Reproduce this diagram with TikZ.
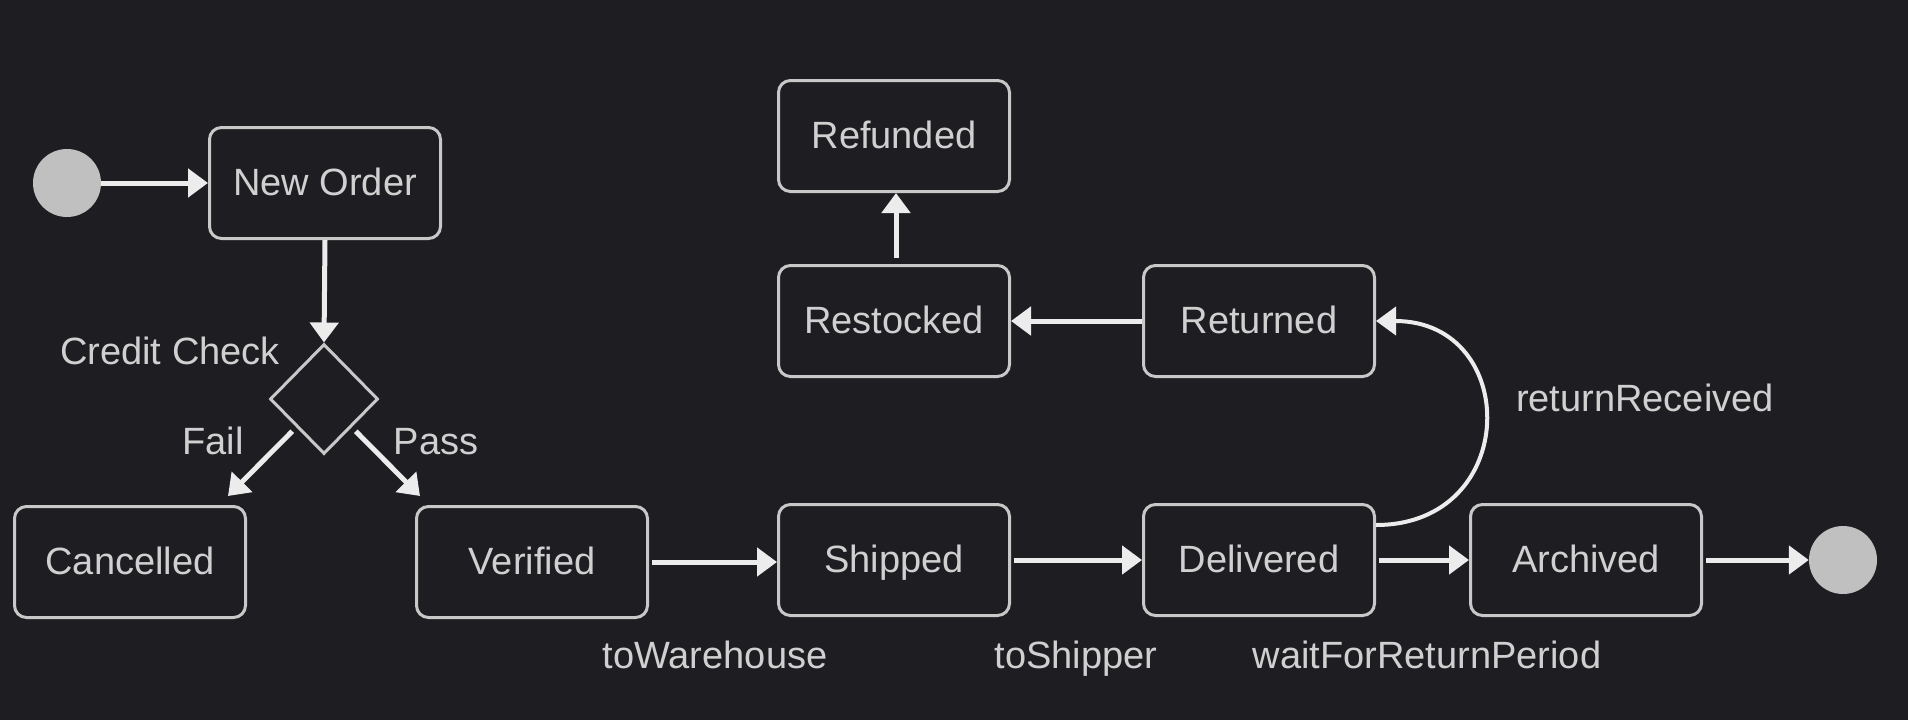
\documentclass[tikz,border=0pt]{standalone}
\usepackage{fontspec}
\setmainfont{Liberation Sans}
\usetikzlibrary{shapes.geometric,arrows.meta,calc}
\definecolor{bg}{RGB}{30,29,33}
\definecolor{boxline}{RGB}{200,200,200}
\definecolor{txt}{RGB}{208,208,208}
\definecolor{arr}{RGB}{236,236,236}
\definecolor{dot}{RGB}{192,192,192}
\tikzset{
  statebox/.style={draw=boxline, line width=3pt, fill=bg, rounded corners=12pt,
    minimum width=231pt, minimum height=111pt, inner sep=0pt, text=txt,
    text height=27pt, text depth=3pt,
    font=\fontsize{38}{46}\selectfont},
  dotnode/.style={circle, fill=dot, minimum size=68pt, inner sep=0pt},
  choice/.style={diamond, draw=boxline, line width=3pt, fill=bg,
    minimum width=108pt, minimum height=110pt, inner sep=0pt},
  lbl/.style={text=txt, font=\fontsize{38}{46}\selectfont, inner sep=0pt,
    text height=27pt, text depth=3pt},
  flow/.style={draw=arr, line width=5pt, -{Triangle[length=20pt,width=28pt]}},
}
\begin{document}
\begin{tikzpicture}[x=1pt,y=-1pt]
\useasboundingbox (0,0) rectangle (1908,720);
\fill[bg] (0,0) rectangle (1908,720);

\node[dotnode] (start) at (67,183) {};
\node[statebox] (new) at (325,183) {New Order};
\node[choice] (dia) at (324,399) {};
\node[lbl] (cclbl) at (170,352) {Credit Check};
\node[statebox] (cancel) at (130,562) {Cancelled};
\node[statebox] (verif) at (532,562) {Verified};
\node[statebox] (ship) at (894,560) {Shipped};
\node[statebox] (deliv) at (1259,560) {Delivered};
\node[statebox] (arch) at (1586,560) {Archived};
\node[dotnode] (stop) at (1843,560) {};
\node[statebox] (refund) at (894,136) {Refunded};
\node[statebox] (restock) at (894,321) {Restocked};
\node[statebox] (ret) at (1259,321) {Returned};

\node[lbl] (faillbl) at (213,442) {Fail};
\node[lbl] (passlbl) at (436,442) {Pass};
\node[lbl] (l1) at (715,656) {toWarehouse};
\node[lbl] (l2) at (1076,656) {toShipper};
\node[lbl] (l3) at (1427,656) {waitForReturnPeriod};
\node[lbl] (l4) at (1645,399) {returnReceived};

\coordinate (failend) at (228,496);
\coordinate (passend) at (420,496);
\coordinate (rsTop) at ($(restock.north)+(2,-6)$);
\coordinate (rfBot) at ($(refund.south)+(2,0)$);
\coordinate (curveStart) at ($(deliv.east)+(0,-35)$);
\coordinate (shipIn) at ($(ship.west)+(0,2)$);

\draw[flow] (start.east) -- (new.west);
\draw[flow] (new.south) -- (dia.north);
\draw[flow] ($(dia.south west)+(-4,4)$) -- (failend);
\draw[flow] ($(dia.south east)+(4,4)$) -- (passend);
\draw[flow, shorten <=3pt] (verif.east) -- (shipIn);
\draw[flow, shorten <=3pt] (ship.east) -- (deliv.west);
\draw[flow, shorten <=3pt] (deliv.east) -- (arch.west);
\draw[flow, shorten <=3pt] (arch.east) -- (stop.west);
\draw[flow] (ret.west) -- (restock.east);
\draw[flow] (rsTop) -- (rfBot);
\draw[flow, line width=4pt] (curveStart) .. controls ($(curveStart)+(145,0)$) and ($(ret.east)+(145,0)$) .. (ret.east);
\end{tikzpicture}
\end{document}
